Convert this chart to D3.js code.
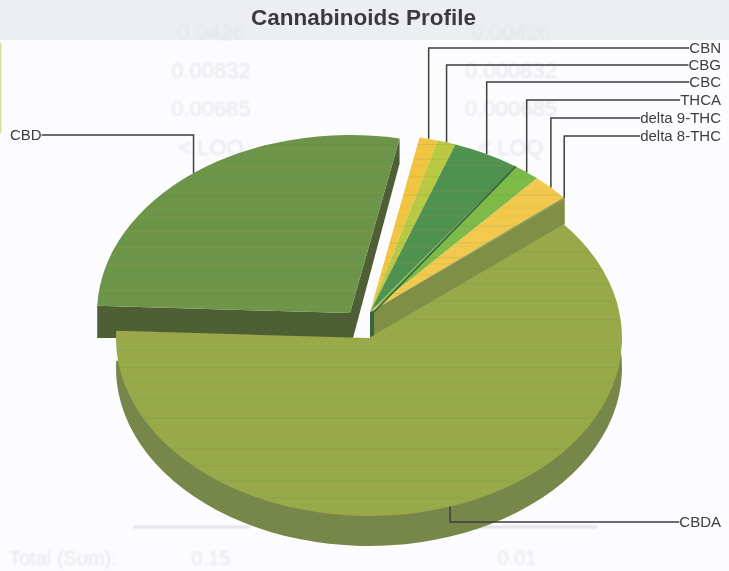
<!DOCTYPE html>
<html>
<head>
<meta charset="UTF-8">
<title>Cannabinoids Profile</title>
<script src="https://cdnjs.cloudflare.com/ajax/libs/d3/7.8.5/d3.min.js"></script>
<style>
	body, html { margin: 0; padding: 0; background: #fcfcfe; }
	svg { display: block; }
	text { font-family: "Liberation Sans", Arial, sans-serif; }
</style>
</head>
<body>
<svg id="Chart" width="729" height="571"></svg>
<script>
	// slices, clockwise from the left edge of the CBD slice
	var names = ["CBD", "CBN", "CBG", "CBC", "THCA", "delta 9-THC", "delta 8-THC", "CBDA"];
	var shares = [27.5, 1.17, 1.17, 4.3, 1.7, 2.4, 0.1, 61.66];
	var colors = ["#6c9549", "#f1c443", "#bac943", "#4f9150", "#7dbb4a", "#f2c94d", "#7f9044", "#97a948"];
	var wallColors = ["#4f5e35", "#a88a30", "#828d30", "#38663a", "#588334", "#a88a30", "#7f8f45", "#77874a"];

	// the faint table showing through the scan
	var ghostLeft = ["0.0426", "0.00832", "0.00685", "< LOQ"];
	var ghostRight = ["0.00426", "0.000832", "0.000685", "< LOQ"];
	var ghostTotals = ["Total (Sum):", "0.15", "0.01"];

	var W = 729, H = 571,
		RX = 253, RY = 178,
		START = -87.7 * Math.PI / 180;

	// each slice group sits at its own offset, like the original exploded pie
	var centerOf = {
		"CBD": { x: 350, y: 313, depth: 25 },
		"CBDA": { x: 369, y: 338, depth: 30 }
	};
	var smallCenter = { x: 370, y: 312, depth: 26 };
	var labelY = [135, 48, 65, 82, 100, 118, 136, 522];

	var svg = d3.select("#Chart"),
		defs = svg.append("defs");

	defs.append("filter").attr("id", "soft").append("feGaussianBlur").attr("stdDeviation", 0.45);
	defs.append("filter").attr("id", "ghost").append("feGaussianBlur").attr("stdDeviation", 1.1);
	defs.append("filter").attr("id", "textSoft").append("feGaussianBlur").attr("stdDeviation", 0.3);

	var streakRows = [3, 17, 23, 41, 46, 62, 71, 87, 108, 113, 131];
	var streaks = defs.append("pattern").attr("id", "streaks")
		.attr("patternUnits", "userSpaceOnUse")
		.attr("width", 40).attr("height", 140);
	streaks.selectAll("rect").data(streakRows).enter().append("rect")
		.attr("x", 0).attr("width", 40)
		.attr("y", function(d) { return d; })
		.attr("height", 1.2)
		.attr("fill", function(d, i) { return i % 2 === 0 ? "#c9a035" : "#5c8440"; })
		.attr("opacity", 0.22);

	// page background and the grey band at the top
	svg.append("rect").attr("width", W).attr("height", H).attr("fill", "#fcfcfe");
	svg.append("rect").attr("width", W).attr("height", 40).attr("fill", "#eceef1");
	svg.append("rect").attr("y", 43).attr("width", 1.5).attr("height", 90).attr("fill", "#cfe59b");

	var ghost = svg.append("g").attr("filter", "url(#ghost)")
		.attr("fill", "#e4e6e9").attr("font-size", 22).attr("text-anchor", "middle");
	var ghostY = d3.scalePoint().domain(d3.range(4)).range([32, 147]);

	ghost.selectAll(".l").data(ghostLeft).enter().append("text")
		.attr("x", 211)
		.attr("y", function(d, i) { return ghostY(i); })
		.attr("dy", ".35em")
		.text(function(d) { return d; });
	ghost.selectAll(".r").data(ghostRight).enter().append("text")
		.attr("x", 511)
		.attr("y", function(d, i) { return ghostY(i); })
		.attr("dy", ".35em")
		.text(function(d) { return d; });
	ghost.selectAll(".t").data(ghostTotals).enter().append("text")
		.attr("x", function(d, i) { return [63, 211, 517][i]; })
		.attr("y", 558)
		.attr("dy", ".35em")
		.attr("font-size", 20)
		.text(function(d) { return d; });
	ghost.selectAll("line").data([[133, 250], [470, 597]]).enter().append("line")
		.attr("x1", function(d) { return d[0]; })
		.attr("x2", function(d) { return d[1]; })
		.attr("y1", 527).attr("y2", 527)
		.attr("stroke", "#d6d8dc").attr("stroke-width", 2);

	var pie = d3.pie().sort(null)
		.startAngle(START).endAngle(START + 2 * Math.PI);
	var arc = d3.arc().innerRadius(0).outerRadius(RX);

	var slices = pie(shares).map(function(d, i) {
		d.name = names[i];
		d.center = centerOf[names[i]] || smallCenter;
		return d;
	});

	function rim(d, a) {
		return [d.center.x + RX * Math.sin(a), d.center.y - RY * Math.cos(a)];
	}
	function place(d, dy) {
		return "translate(" + d.center.x + "," + (d.center.y + dy) + ") scale(1," + (RY / RX) + ")";
	}

	var chart = svg.append("g").attr("filter", "url(#soft)");

	var cbd = slices[0], cbda = slices[7], small = slices.slice(1, 7);
	var floorY = cbda.center.y;

	// CBD walls: front face stops at the top of the CBDA face
	var a0 = rim(cbd, cbd.startAngle), a1 = rim(cbd, cbd.endAngle);
	chart.append("path")
		.attr("fill", wallColors[0])
		.attr("d", d3.line()([a0, [cbd.center.x, cbd.center.y], [cbd.center.x, floorY], [a0[0], floorY]]));
	chart.append("path")
		.attr("fill", wallColors[0])
		.attr("d", d3.line()([
			[cbd.center.x, cbd.center.y], a1, [a1[0], a1[1] + cbd.center.depth],
			[cbd.center.x + 3, floorY], [cbd.center.x, floorY]
		]));

	// CBDA wall is its own slice pushed down, the face covers the rest
	chart.append("path")
		.attr("fill", wallColors[7])
		.attr("transform", place(cbda, cbda.center.depth))
		.attr("d", arc(cbda));

	// wall under the right edge of the small slices
	var last = small[small.length - 1],
		rimEnd = rim(last, last.endAngle),
		apex = [last.center.x, last.center.y];
	chart.append("path")
		.attr("fill", wallColors[6])
		.attr("d", d3.line()([apex, rimEnd, [rimEnd[0], rimEnd[1] + last.center.depth], [apex[0], apex[1] + last.center.depth]]));
	chart.append("path")
		.attr("fill", wallColors[3])
		.attr("d", d3.line()([apex, [apex[0] + 4, apex[1] - 1], [apex[0] + 4, apex[1] + last.center.depth], [apex[0], apex[1] + last.center.depth]]));

	// faces
	var faces = chart.selectAll(".face").data(slices).enter().append("g").attr("class", "face");
	faces.append("path")
		.attr("transform", function(d) { return place(d, 0); })
		.attr("d", arc)
		.attr("fill", function(d, i) { return colors[i]; });
	faces.append("path")
		.attr("transform", function(d) { return place(d, 0); })
		.attr("d", arc)
		.attr("fill", "url(#streaks)");

	// thin dark edge between CBC and THCA
	var cbc = slices[3];
	chart.append("path")
		.attr("fill", "none").attr("stroke", wallColors[3]).attr("stroke-width", 1.6)
		.attr("d", d3.line()([[cbc.center.x + 3, cbc.center.y + 1], rim(cbc, cbc.endAngle)]));

	// title
	svg.append("text")
		.attr("x", 363.5).attr("y", 25)
		.attr("text-anchor", "middle")
		.attr("font-size", 22.5).attr("font-weight", "bold")
		.attr("fill", "#3b3b3d")
		.attr("filter", "url(#textSoft)")
		.text("Cannabinoids Profile");

	// labels with elbow leaders out of the middle of each slice
	var leaders = svg.append("g").attr("filter", "url(#textSoft)");
	slices.forEach(function(d, i) {
		var mid = (d.startAngle + d.endAngle) / 2,
			p = rim(d, mid),
			left = d.name === "CBD",
			y = labelY[i];

		var label = leaders.append("text")
			.attr("x", left ? 10 : 721)
			.attr("y", y)
			.attr("dy", ".35em")
			.attr("text-anchor", left ? "start" : "end")
			.attr("font-size", 15)
			.attr("fill", "#3d3d40")
			.text(d.name);

		var w = label.node().getComputedTextLength(),
			edge = left ? 10 + w : 721 - w;

		leaders.append("path")
			.attr("fill", "none")
			.attr("stroke", "#3f3f41")
			.attr("stroke-width", 1.5)
			.attr("d", d3.line()([p, [p[0], y], [edge, y]]));
	});
</script>
</body>
</html>
